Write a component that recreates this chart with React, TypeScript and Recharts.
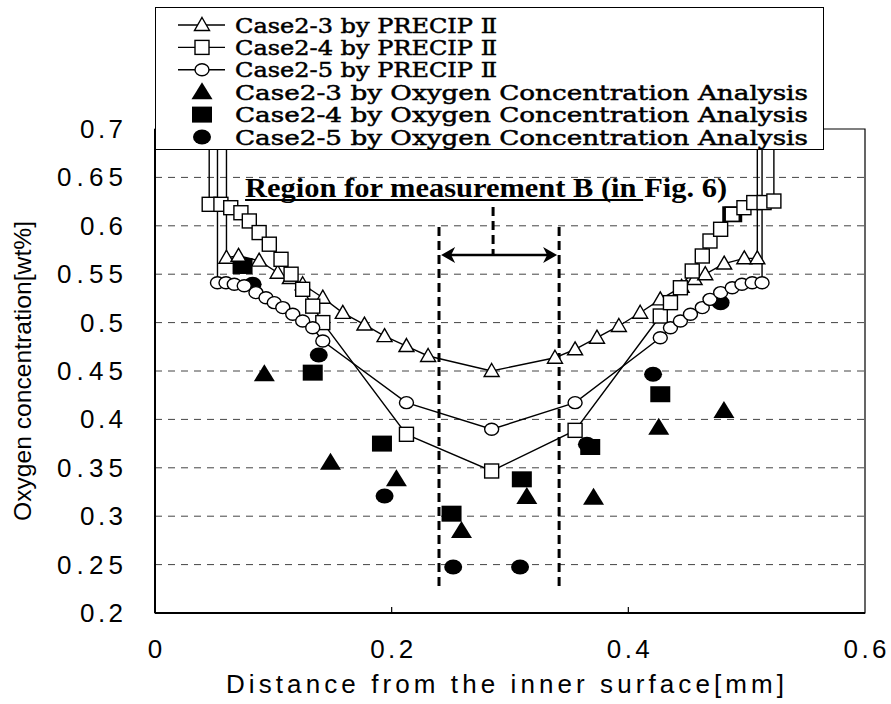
import React from "react";
import {
  ComposedChart,
  Line,
  Scatter,
  XAxis,
  YAxis,
  CartesianGrid,
  ReferenceLine,
  ReferenceArea,
  Legend,
} from "recharts";

type Pt = { x: number; y: number };

const xTicks = [0, 0.2, 0.4, 0.6];
const yTicks = [0.2, 0.25, 0.3, 0.35, 0.4, 0.45, 0.5, 0.55, 0.6, 0.65, 0.7];
const gridLevels = [0.25, 0.3, 0.35, 0.4, 0.45, 0.5, 0.55, 0.6, 0.65];

// PRECIP II profiles. first/last points lie above 0.7 so the wall lines run off the top
const case23Calc: Pt[] = [
  { x: 0.0604, y: 0.75 }, { x: 0.0604, y: 0.567 }, { x: 0.0706, y: 0.569 },
  { x: 0.088, y: 0.564 }, { x: 0.1037, y: 0.5515 }, { x: 0.114, y: 0.546 },
  { x: 0.1248, y: 0.5396 }, { x: 0.1418, y: 0.5257 }, { x: 0.1587, y: 0.51 },
  { x: 0.177, y: 0.498 }, { x: 0.194, y: 0.486 }, { x: 0.2125, y: 0.4758 },
  { x: 0.2308, y: 0.4655 }, { x: 0.2845, y: 0.45 }, { x: 0.338, y: 0.4637 },
  { x: 0.355, y: 0.4724 }, { x: 0.3735, y: 0.4844 }, { x: 0.392, y: 0.4965 },
  { x: 0.41, y: 0.5102 }, { x: 0.427, y: 0.524 }, { x: 0.445, y: 0.537 },
  { x: 0.456, y: 0.545 }, { x: 0.465, y: 0.55 }, { x: 0.481, y: 0.561 },
  { x: 0.498, y: 0.5664 }, { x: 0.509, y: 0.5664 }, { x: 0.509, y: 0.75 },
];

const case24Calc: Pt[] = [
  { x: 0.0458, y: 0.75 }, { x: 0.0458, y: 0.6222 }, { x: 0.0557, y: 0.6222 },
  { x: 0.064, y: 0.6187 }, { x: 0.0726, y: 0.6135 }, { x: 0.0797, y: 0.605 },
  { x: 0.088, y: 0.593 }, { x: 0.0966, y: 0.581 }, { x: 0.1065, y: 0.5654 },
  { x: 0.115, y: 0.55 }, { x: 0.1248, y: 0.5344 }, { x: 0.1333, y: 0.517 },
  { x: 0.1418, y: 0.5 }, { x: 0.2125, y: 0.3846 }, { x: 0.2845, y: 0.3467 },
  { x: 0.355, y: 0.3887 }, { x: 0.427, y: 0.5068 }, { x: 0.4356, y: 0.5206 },
  { x: 0.444, y: 0.536 }, { x: 0.454, y: 0.5533 }, { x: 0.4625, y: 0.5688 },
  { x: 0.469, y: 0.5843 }, { x: 0.478, y: 0.5964 }, { x: 0.4878, y: 0.6119 },
  { x: 0.4977, y: 0.6187 }, { x: 0.506, y: 0.624 }, { x: 0.5147, y: 0.624 },
  { x: 0.523, y: 0.6256 }, { x: 0.523, y: 0.75 },
];

const case25Calc: Pt[] = [
  { x: 0.0528, y: 0.75 }, { x: 0.0528, y: 0.5412 }, { x: 0.06, y: 0.5412 },
  { x: 0.067, y: 0.5396 }, { x: 0.0754, y: 0.538 }, { x: 0.0853, y: 0.531 },
  { x: 0.0938, y: 0.5257 }, { x: 0.1008, y: 0.5206 }, { x: 0.108, y: 0.5155 },
  { x: 0.1164, y: 0.5086 }, { x: 0.1248, y: 0.5017 }, { x: 0.1333, y: 0.4947 },
  { x: 0.1418, y: 0.481 }, { x: 0.2125, y: 0.4173 }, { x: 0.2845, y: 0.3898 },
  { x: 0.355, y: 0.4173 }, { x: 0.427, y: 0.4844 }, { x: 0.4356, y: 0.4947 },
  { x: 0.444, y: 0.5017 }, { x: 0.4525, y: 0.5086 }, { x: 0.4625, y: 0.5155 },
  { x: 0.469, y: 0.524 }, { x: 0.478, y: 0.531 }, { x: 0.4878, y: 0.536 },
  { x: 0.496, y: 0.5396 }, { x: 0.5047, y: 0.5412 }, { x: 0.513, y: 0.5412 },
  { x: 0.513, y: 0.75 },
];

// oxygen concentration analysis (measured)
const case23Meas: Pt[] = [
  { x: 0.0924, y: 0.4466 }, { x: 0.1483, y: 0.3553 }, { x: 0.204, y: 0.3381 },
  { x: 0.259, y: 0.2847 }, { x: 0.3142, y: 0.3198 }, { x: 0.3706, y: 0.319 },
  { x: 0.4257, y: 0.3914 }, { x: 0.4808, y: 0.4087 },
];
const case24Meas: Pt[] = [
  { x: 0.074, y: 0.5585 }, { x: 0.1333, y: 0.4483 }, { x: 0.1918, y: 0.375 },
  { x: 0.2506, y: 0.3026 }, { x: 0.31, y: 0.3381 }, { x: 0.3678, y: 0.3715 },
  { x: 0.427, y: 0.426 }, { x: 0.4878, y: 0.6119 },
];
const case25Meas: Pt[] = [
  { x: 0.0825, y: 0.5396 }, { x: 0.1384, y: 0.4665 }, { x: 0.194, y: 0.3209 },
  { x: 0.252, y: 0.2475 }, { x: 0.3085, y: 0.2475 }, { x: 0.365, y: 0.3743 },
  { x: 0.4209, y: 0.4466 }, { x: 0.478, y: 0.5206 },
];

const legendLabels = [
  "Case2-3 by PRECIP Ⅱ",
  "Case2-4 by PRECIP Ⅱ",
  "Case2-5 by PRECIP Ⅱ",
  "Case2-3 by Oxygen Concentration Analysis",
  "Case2-4 by Oxygen Concentration Analysis",
  "Case2-5 by Oxygen Concentration Analysis",
];

const SANS = "'Liberation Sans', Arial, sans-serif";
const SERIF = "'DejaVu Serif', 'Liberation Serif', serif";

// marker shapes
const triOpen = (cx: number, cy: number) => (
  <polygon points={`${cx},${cy - 7.5} ${cx + 7.5},${cy + 5.5} ${cx - 7.5},${cy + 5.5}`} fill="#fff" stroke="#000" strokeWidth={1.4} />
);
const sqOpen = (cx: number, cy: number) => (
  <rect x={cx - 7} y={cy - 7} width={14} height={14} fill="#fff" stroke="#000" strokeWidth={1.4} />
);
const cirOpen = (cx: number, cy: number) => (
  <ellipse cx={cx} cy={cy} rx={7} ry={6} fill="#fff" stroke="#000" strokeWidth={1.4} />
);
const triFill = (cx: number, cy: number) => (
  <polygon points={`${cx},${cy - 10} ${cx + 10.5},${cy + 7} ${cx - 10.5},${cy + 7}`} fill="#000" />
);
const sqFill = (cx: number, cy: number) => (
  <rect x={cx - 10} y={cy - 8} width={20} height={16} fill="#000" />
);
const cirFill = (cx: number, cy: number) => <ellipse cx={cx} cy={cy} rx={9} ry={7.5} fill="#000" />;

const makeDot = (draw: (cx: number, cy: number) => React.ReactElement) => (p: any) => {
  if (p.payload.y > 0.7) return <g key={p.index} />;
  return <g key={p.index}>{draw(p.cx, p.cy)}</g>;
};
const makeShape = (draw: (cx: number, cy: number) => React.ReactElement) => (p: any) => (
  <g>{draw(p.cx, p.cy)}</g>
);

const legendMarkers = [triOpen, sqOpen, cirOpen, triFill, sqFill, cirFill];

const renderLegend = () => (
  <svg width={669} height={143} style={{ display: "block" }}>
    <rect x={0.5} y={0.5} width={668} height={142} fill="#fff" stroke="#000" strokeWidth={1} />
    {legendLabels.map((label, i) => {
      const cy = 18 + i * 22.4;
      return (
        <g key={label}>
          {i < 3 && <line x1={23} y1={cy} x2={70} y2={cy} stroke="#000" strokeWidth={1.4} />}
          {legendMarkers[i](47, cy)}
          <text
            x={80}
            y={cy + 7.5}
            fontFamily={SERIF}
            fontSize={21}
            stroke="#000"
            strokeWidth={0.5}
            textLength={i < 3 ? 262 : 573}
            lengthAdjust="spacingAndGlyphs"
          >
            {label}
          </text>
        </g>
      );
    })}
  </svg>
);

const YTick = ({ y, payload }: any) => {
  const s = String(payload.value);
  return (
    <text x={123} y={y + 9} textAnchor="end" fontFamily={SANS} fontSize={26}
      textLength={s.length === 3 ? 43 : 66} lengthAdjust="spacing">
      {s}
    </text>
  );
};

const XTick = ({ x, payload }: any) => {
  const s = String(payload.value);
  const inner = payload.value > 0 && payload.value < 0.6;
  return (
    <g>
      {inner && <line x1={x} y1={613} x2={x} y2={607} stroke="#000" strokeWidth={1.2} />}
      <text x={x} y={658} textAnchor="middle" fontFamily={SANS} fontSize={26}
        textLength={s.length === 1 ? 16 : 43} lengthAdjust="spacing">
        {s}
      </text>
    </g>
  );
};

const TitleShape = (p: any) => (
  <g>
    <line x1={p.x1} y1={p.y1} x2={p.x2} y2={p.y2} stroke="#000" strokeWidth={2} />
    <text x={p.x1} y={p.y1 - 3} fontFamily="'Liberation Serif', serif" fontWeight="bold"
      fontSize={27} textLength={482} lengthAdjust="spacingAndGlyphs">
      Region for measurement B (in Fig. 6)
    </text>
  </g>
);

const ArrowShape = (p: any) => {
  const { x1, y1, x2, y2 } = p;
  return (
    <g>
      <line x1={x1 + 6} y1={y1} x2={x2 - 6} y2={y2} stroke="#000" strokeWidth={2.5} />
      <polygon points={`${x1},${y1} ${x1 + 14},${y1 - 8} ${x1 + 10},${y1} ${x1 + 14},${y1 + 8}`} fill="#000" />
      <polygon points={`${x2},${y2} ${x2 - 14},${y2 - 8} ${x2 - 10},${y2} ${x2 - 14},${y2 + 8}`} fill="#000" />
    </g>
  );
};

export default function App() {
  return (
    <div style={{ position: "absolute", left: 0, top: 0, width: 891, height: 704, background: "#fff" }}>
      <ComposedChart
        width={891}
        height={704}
        margin={{ top: 129, right: 26, bottom: 51, left: 75 }}
      >
        <CartesianGrid vertical={false} horizontalValues={gridLevels} stroke="#444" strokeDasharray="7 6" />
        <ReferenceArea x1={0} x2={0.6} y1={0.2} y2={0.7} fill="none" stroke="#000" strokeWidth={1.2} />
        <XAxis
          type="number"
          dataKey="x"
          domain={[0, 0.6]}
          ticks={xTicks}
          allowDataOverflow
          tickLine={false}
          axisLine={{ stroke: "#000", strokeWidth: 2 }}
          height={40}
          tick={<XTick />}
          label={{
            content: () => (
              <text x={505} y={693} textAnchor="middle" fontFamily={SANS} fontSize={26}
                textLength={558} lengthAdjust="spacing">
                Distance from the inner surface[mm]
              </text>
            ),
          }}
        />
        <YAxis
          type="number"
          dataKey="y"
          domain={[0.2, 0.7]}
          ticks={yTicks}
          allowDataOverflow
          tickLine={false}
          axisLine={{ stroke: "#000", strokeWidth: 2 }}
          width={80}
          tick={<YTick />}
          label={{
            content: () => (
              <text x={31} y={371} transform="rotate(-90 31 371)" textAnchor="middle"
                fontFamily={SANS} fontSize={24} textLength={300} lengthAdjust="spacingAndGlyphs">
                Oxygen concentration[wt%]
              </text>
            ),
          }}
        />

        <ReferenceLine segment={[{ x: 0.24, y: 0.5988 }, { x: 0.24, y: 0.2238 }]} stroke="#000" strokeWidth={3} strokeDasharray="9 5" />
        <ReferenceLine segment={[{ x: 0.3415, y: 0.5988 }, { x: 0.3415, y: 0.2238 }]} stroke="#000" strokeWidth={3} strokeDasharray="9 5" />
        <ReferenceLine segment={[{ x: 0.2857, y: 0.6194 }, { x: 0.2857, y: 0.5698 }]} stroke="#000" strokeWidth={3} strokeDasharray="9 5" />
        <ReferenceLine segment={[{ x: 0.2418, y: 0.5698 }, { x: 0.3398, y: 0.5698 }]} shape={ArrowShape} />
        <ReferenceLine segment={[{ x: 0.0761, y: 0.6267 }, { x: 0.4125, y: 0.6267 }]} shape={TitleShape} />

        <Line data={case23Calc} dataKey="y" stroke="#000" strokeWidth={1.4} dot={makeDot(triOpen)} isAnimationActive={false} />
        <Line data={case24Calc} dataKey="y" stroke="#000" strokeWidth={1.4} dot={makeDot(sqOpen)} isAnimationActive={false} />
        <Line data={case25Calc} dataKey="y" stroke="#000" strokeWidth={1.4} dot={makeDot(cirOpen)} isAnimationActive={false} />

        <Scatter data={case23Meas} dataKey="y" shape={makeShape(triFill)} isAnimationActive={false} />
        <Scatter data={case24Meas} dataKey="y" shape={makeShape(sqFill)} isAnimationActive={false} />
        <Scatter data={case25Meas} dataKey="y" shape={makeShape(cirFill)} isAnimationActive={false} />

        <Legend
          content={renderLegend}
          layout="horizontal"
          verticalAlign="middle"
          align="center"
          wrapperStyle={{ left: 155, top: 7, width: 669, height: 143 }}
        />
      </ComposedChart>
    </div>
  );
}
